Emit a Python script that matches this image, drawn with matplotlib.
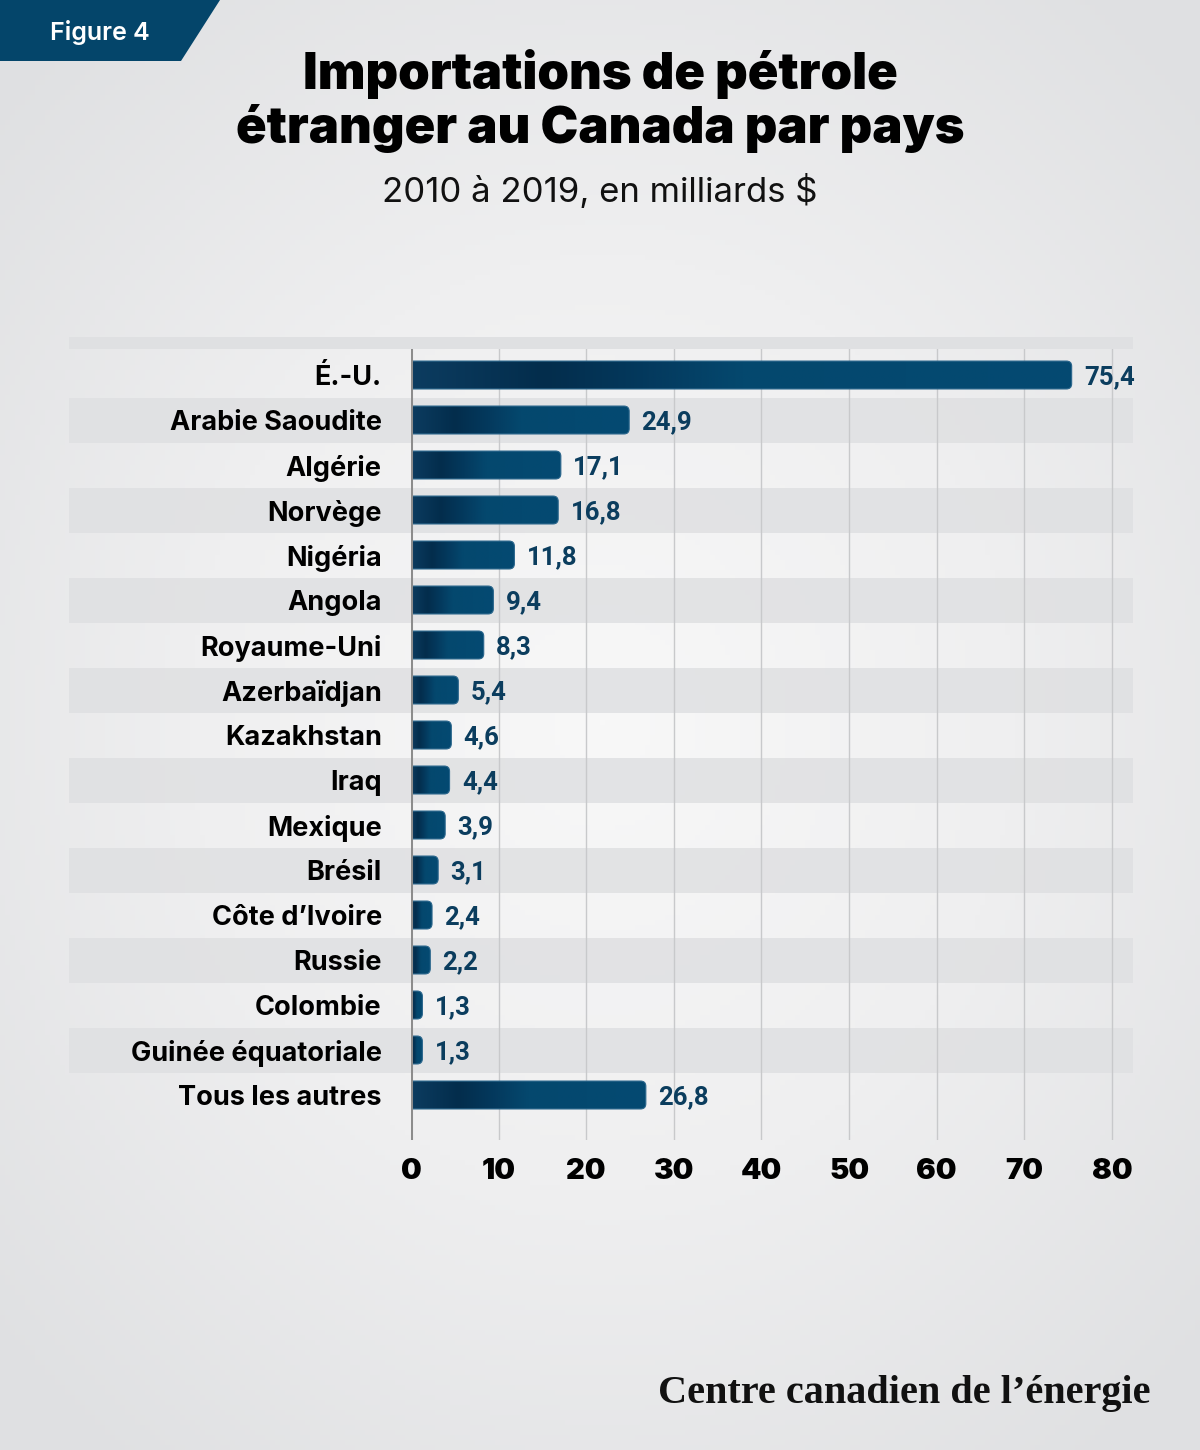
import numpy as np
import matplotlib
matplotlib.use('Agg')
import matplotlib.pyplot as plt
import matplotlib.transforms as mtransforms
from matplotlib.patches import FancyBboxPatch, Rectangle, Polygon
from matplotlib.colors import LinearSegmentedColormap

countries = ['É.-U.', 'Arabie Saoudite', 'Algérie', 'Norvège', 'Nigéria', 'Angola',
             'Royaume-Uni', 'Azerbaïdjan', 'Kazakhstan', 'Iraq', 'Mexique', 'Brésil',
             'Côte d’Ivoire', 'Russie', 'Colombie', 'Guinée équatoriale', 'Tous les autres']
values = [75.4, 24.9, 17.1, 16.8, 11.8, 9.4, 8.3, 5.4, 4.6, 4.4, 3.9, 3.1, 2.4, 2.2, 1.3, 1.3, 26.8]
x_ticks = [0, 10, 20, 30, 40, 50, 60, 70, 80]

title = 'Importations de pétrole\nétranger au Canada par pays'
subtitle = '2010 à 2019, en milliards $'
tag = 'Figure 4'
logo = 'Centre canadien de l’énergie'

NAVY = '#04456a'
W, H = 1200, 1450
fig = plt.figure(figsize=(W / 100, H / 100), dpi=100)

# background with soft radial light
bg = fig.add_axes([0, 0, 1, 1], zorder=-10)
yy, xx = np.mgrid[0:H:5, 0:W:5]
r = np.sqrt(((xx - 600) / 750) ** 2 + ((yy - 720) / 850) ** 2)
bg_cmap = LinearSegmentedColormap.from_list('bg', ['#f8f8f8', '#efeff0', '#dfe0e2'])
bg.imshow(r, cmap=bg_cmap, extent=[0, W, H, 0], aspect='auto', vmin=0, vmax=1.1)
bg.set_xlim(0, W)
bg.set_ylim(H, 0)
bg.axis('off')

# figure tag
bg.add_patch(Polygon([(0, 0), (220, 0), (181, 61), (0, 61)], closed=True, fc=NAVY, ec='none'))
bg.text(100, 32, tag, ha='center', va='center', color='white', fontsize=18,
        fontweight='semibold', family=['Inter', 'DejaVu Sans'])

bg.text(600, 101, title, ha='center', va='center', fontsize=36.5, fontweight='black',
        family=['Inter', 'DejaVu Sans'], linespacing=1.15, color='#000000')
bg.text(600, 191, subtitle, ha='center', va='center', fontsize=25,
        family=['Inter', 'DejaVu Sans'], color='#111111')
bg.text(1150, 1394, logo, ha='right', va='center', fontsize=29, fontweight='bold',
        family=['Liberation Serif', 'DejaVu Serif'], color='#111111')

# main chart
ax = fig.add_axes([411 / W, 1 - 1140 / H, (1133 - 411) / W, (1140 - 349) / H])
ax.patch.set_alpha(0)
blend = mtransforms.blended_transform_factory(ax.transAxes, ax.transData)
left = -342 / 722

ax.add_patch(Rectangle((left, -0.844), 1 - left, 0.266, transform=blend, clip_on=False,
                       fc='#dfe0e2', ec='none', zorder=0))
for i in range(1, len(countries), 2):
    ax.add_patch(Rectangle((left, i - 0.5), 1 - left, 1, transform=blend, clip_on=False,
                           fc='#dfe0e2', ec='none', alpha=0.85, zorder=0))

for x in x_ticks[1:]:
    ax.axvline(x, color='#c8c9cb', lw=1, zorder=1)

bar_cmap = LinearSegmentedColormap.from_list(
    'bar', [(0, '#0c3c60'), (0.2, '#032d4c'), (0.35, '#04395d'), (0.5, '#04486e'), (1, '#044a72')])
grad = np.linspace(0, 1, 256)[None, :]
bh = 0.62
for i, v in enumerate(values):
    patch = FancyBboxPatch((-2, i - bh / 2), v + 2, bh,
                           boxstyle='round,pad=0,rounding_size=0.6',
                           mutation_aspect=8.76 / 45, fc='none', ec='#2a668c', lw=0.8, zorder=3)
    ax.add_patch(patch)
    im = ax.imshow(grad, cmap=bar_cmap, extent=[0, v, i + bh / 2, i - bh / 2],
                   aspect='auto', zorder=2.5, interpolation='bicubic')
    im.set_clip_path(patch)
    ax.text(v + 1.4, i + 0.06, f'{v:.1f}'.replace('.', ','), ha='left', va='center',
            fontsize=18.5, fontweight='bold', color='#0b3d5e', family=['Roboto', 'DejaVu Sans'])

ax.axvline(0, color='#8c8c8c', lw=2.2, zorder=4)

ax.set_xlim(0, 82.4)
ax.set_ylim(17.0, -0.578)
ax.set_yticks(range(len(countries)))
ax.set_yticklabels(countries, fontsize=19.5, fontweight='bold', family=['Inter', 'DejaVu Sans'])
ax.set_xticks(x_ticks)
ax.set_xticklabels([str(t) for t in x_ticks], fontsize=21, fontweight='black',
                   family=['Inter', 'DejaVu Sans'])
ax.tick_params(axis='y', length=0, pad=21)
ax.tick_params(axis='x', length=0, pad=13)
for s in ax.spines.values():
    s.set_visible(False)

fig.savefig('out.png', dpi=100)
